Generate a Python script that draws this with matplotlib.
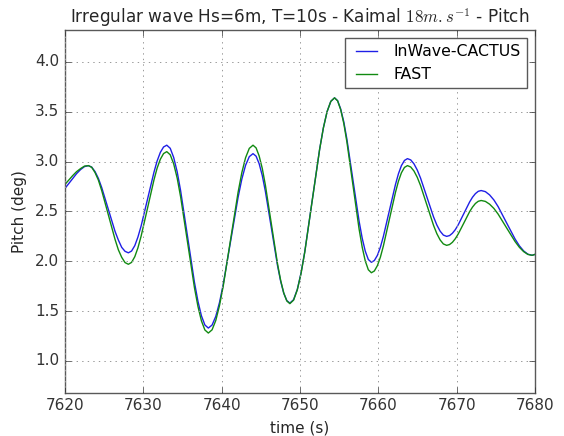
import matplotlib
matplotlib.use('Agg')
import matplotlib.pyplot as plt

# pitch time series, denser sampling around each crest and trough
time_s = [7620.0, 7620.5, 7621.0, 7621.5, 7622.0, 7622.5,
          7623.0, 7623.425, 7623.85, 7624.275, 7624.7, 7625.55, 7626.4, 7626.825, 7627.25, 7627.675,
          7628.1, 7628.51, 7628.92, 7629.32, 7629.73, 7630.55, 7631.37, 7631.77, 7632.18, 7632.59,
          7633.0, 7633.44, 7633.88, 7634.33, 7634.77, 7635.65, 7636.53, 7636.98, 7637.42, 7637.86,
          7638.3, 7638.775, 7639.25, 7639.725, 7640.2, 7641.15, 7642.1, 7642.575, 7643.05, 7643.525,
          7644.0, 7644.39, 7644.78, 7645.18, 7645.57, 7646.35, 7647.13, 7647.53, 7647.92, 7648.31,
          7648.7, 7649.175, 7649.65, 7650.125, 7650.6, 7651.55, 7652.5, 7652.975, 7653.45, 7653.925,
          7654.4, 7654.79, 7655.18, 7655.58, 7655.97, 7656.75, 7657.53, 7657.93, 7658.32, 7658.71,
          7659.1, 7659.48, 7659.87, 7660.25, 7660.63, 7661.4, 7662.17, 7662.55, 7662.93, 7663.32,
          7663.7, 7664.12, 7664.53, 7664.95, 7665.37, 7666.2, 7667.03, 7667.45, 7667.87, 7668.28,
          7668.7, 7669.07, 7669.43, 7669.8, 7670.17, 7670.9, 7671.63, 7672.0, 7672.37, 7672.73,
          7673.1, 7673.64, 7674.18, 7674.73, 7675.27, 7676.35, 7677.43, 7677.98, 7678.52, 7679.06,
          7679.6, 7680.0]

pitch_inwave = [2.73, 2.78, 2.83, 2.88, 2.92, 2.95,
                2.96, 2.945, 2.90, 2.832, 2.74, 2.52, 2.30, 2.213, 2.14, 2.10,
                2.085, 2.103, 2.157, 2.243, 2.355, 2.625, 2.895, 3.007, 3.093, 3.147,
                3.165, 3.134, 3.042, 2.897, 2.706, 2.248, 1.789, 1.598, 1.453, 1.361,
                1.33, 1.36, 1.447, 1.586, 1.768, 2.205, 2.643, 2.825, 2.963, 3.05,
                3.08, 3.055, 2.98, 2.861, 2.705, 2.33, 1.955, 1.799, 1.68, 1.606,
                1.58, 1.615, 1.718, 1.882, 2.095, 2.61, 3.125, 3.339, 3.502, 3.605,
                3.64, 3.612, 3.529, 3.399, 3.228, 2.815, 2.403, 2.231, 2.101, 2.018,
                1.99, 2.008, 2.06, 2.142, 2.25, 2.51, 2.77, 2.878, 2.96, 3.012,
                3.03, 3.017, 2.978, 2.916, 2.835, 2.64, 2.445, 2.364, 2.302, 2.263,
                2.25, 2.258, 2.281, 2.317, 2.365, 2.48, 2.595, 2.643, 2.679, 2.702,
                2.71, 2.699, 2.666, 2.615, 2.548, 2.385, 2.223, 2.155, 2.104, 2.071,
                2.06, 2.07]

pitch_fast = [2.77, 2.815, 2.86, 2.90, 2.93, 2.955,
              2.96, 2.943, 2.89, 2.815, 2.71, 2.465, 2.22, 2.115, 2.04, 1.987,
              1.97, 1.989, 2.046, 2.135, 2.253, 2.535, 2.818, 2.935, 3.024, 3.081,
              3.10, 3.069, 2.978, 2.834, 2.645, 2.19, 1.735, 1.546, 1.402, 1.311,
              1.28, 1.312, 1.406, 1.556, 1.751, 2.223, 2.694, 2.89, 3.039, 3.133,
              3.165, 3.138, 3.058, 2.932, 2.768, 2.37, 1.973, 1.807, 1.682, 1.602,
              1.575, 1.61, 1.713, 1.877, 2.091, 2.608, 3.124, 3.338, 3.502, 3.605,
              3.64, 3.61, 3.522, 3.383, 3.201, 2.763, 2.324, 2.141, 2.003, 1.915,
              1.885, 1.903, 1.957, 2.042, 2.154, 2.423, 2.691, 2.803, 2.888, 2.942,
              2.96, 2.946, 2.906, 2.843, 2.76, 2.56, 2.36, 2.277, 2.214, 2.174,
              2.16, 2.168, 2.19, 2.226, 2.273, 2.385, 2.498, 2.544, 2.58, 2.602,
              2.61, 2.601, 2.573, 2.53, 2.473, 2.335, 2.198, 2.14, 2.097, 2.069,
              2.06, 2.07]

plt.style.use('classic')
plt.rcParams['mathtext.fontset'] = 'cm'

fig = plt.figure(figsize=(5.64, 4.36), dpi=100, facecolor='white')
ax = fig.add_axes([0.115, 0.099, 0.834, 0.832])

ax.plot(time_s, pitch_inwave, color='#1f1fe6', lw=1.0, label='InWave-CACTUS',
        solid_joinstyle='round')
ax.plot(time_s, pitch_fast, color='#118a11', lw=1.0, label='FAST',
        solid_joinstyle='round')

ax.set_xlim(7620, 7680)
ax.set_ylim(0.68, 4.32)
ax.set_xticks([7620, 7630, 7640, 7650, 7660, 7670, 7680])
ax.set_yticks([1.0, 1.5, 2.0, 2.5, 3.0, 3.5, 4.0])
ax.ticklabel_format(useOffset=False)
ax.tick_params(labelsize=11, colors='0.2')
ax.grid(True, color='0.6', ls=':', lw=0.7)
for sp in ax.spines.values():
    sp.set_color('0.35')

ax.set_xlabel('time (s)', fontsize=11, color='0.15')
ax.set_ylabel('Pitch (deg)', fontsize=11, color='0.15', labelpad=6)
ax.set_title(r'Irregular wave Hs=6m, T=10s - Kaimal $18m.s^{-1}$ - Pitch',
             fontsize=12.2, color='0.15')
leg = ax.legend(loc='upper right', prop={'size': 11.3}, frameon=True,
                fancybox=False, handlelength=1.9)
leg.get_frame().set_edgecolor('0.35')

fig.savefig('out.png', dpi=100, facecolor='white')
